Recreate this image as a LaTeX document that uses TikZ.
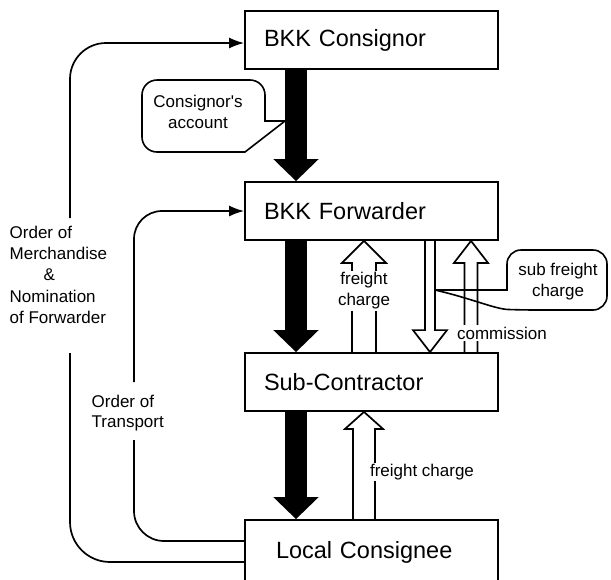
\documentclass[tikz,border=0pt]{standalone}
\usepackage{fontspec}
\setmainfont{Liberation Sans}
\usetikzlibrary{arrows.meta,calc}

\tikzset{
  box/.style={draw,line width=1.8pt,minimum height=58pt,text width=215pt,inner xsep=19pt,
    align=left,font=\fontsize{23.5}{28}\selectfont},
  lbl/.style={font=\fontsize{17}{21}\selectfont,inner sep=1.5pt},
  wire/.style={line width=1.7pt},
  solidarrow/.style={line width=22pt,-{Triangle[length=22pt,width=44pt]}},
  hollow/.style={line width=1.7pt,line join=miter},
  callout/.style={line width=1.6pt}
}

% open arrow: #1 tail, #2 tip, #3 half shaft, #4 half head, #5 signed head length
\newcommand\openarrow[5]{%
  \draw[hollow] let \p1=#1, \p2=#2 in
    (\x1-#3,\y1) -- (\x1-#3,\y2+#5) -- (\x1-#4,\y2+#5) -- (\x2,\y2)
    -- (\x1+#4,\y2+#5) -- (\x1+#3,\y2+#5) -- (\x1+#3,\y1);}

\begin{document}
\begin{tikzpicture}[x=1pt,y=-1pt]
\useasboundingbox (0,0) rectangle (611,579);
\clip (0,0) rectangle (611,579);

% Parameters
\def\headlen{22}
\coordinate (colA) at (296,0);
\coordinate (colF) at (364,0);
\coordinate (colC) at (430,0);
\coordinate (colS) at (471,0);

% Boxes
\node[box] (cons) at (371.5,40) {BKK Consignor};
\node[box] (fwd) at (371.5,211) {BKK Forwarder};
\node[box] (sub) at (371.5,382) {Sub-Contractor};
\node[box,minimum height=64pt,inner xsep=31pt,text width=191pt] (local) at (371.5,552) {Local Consignee};

% Goods
\draw[solidarrow] (cons.south -| colA) -- (fwd.north -| colA);
\draw[solidarrow] (fwd.south -| colA) -- (sub.north -| colA);
\draw[solidarrow] (sub.south -| colA) -- (local.north -| colA);

% Payments
\openarrow{(sub.north -| colF)}{(fwd.south -| colF)}{12}{22}{-\headlen}
\openarrow{(fwd.south -| colC)}{(sub.north -| colC)}{5}{17}{\headlen}
\openarrow{(sub.north -| colS)}{(fwd.south -| colS)}{6.5}{17}{-\headlen}
\openarrow{(local.north -| colF)}{(sub.south -| colF)}{11}{19}{-17}

\node[lbl,fill=white,align=center] (frt1) at (364,291) {freight\\charge};
\node[lbl,fill=white] (comm) at (502,333) {commission};
\node[lbl,fill=white] (frt2) at (422,472) {freight charge};

% Callouts
\coordinate (tipA) at (285,121);
\node[lbl,align=center] (acct) at (198,112) {Consignor\textquotesingle s\\account};
\draw[callout] (tipA) -- (265,121) [rounded corners=15pt] -- (265,80) -- (142,80)
  -- (142,152) [sharp corners] -- (245,152) -- cycle;

\coordinate (tipB) at (435,290);
\node[lbl,align=center] (subfr) at (558,282) {sub freight\\charge};
\draw[callout] (tipB) -- (507,290) [rounded corners=14pt] -- (507,250) -- (607,250)
  -- (607,310) -- (522,310) [sharp corners] .. controls (495,309) and (470,298) .. (tipB);

% Orders
\coordinate (m1) at (70,353);
\coordinate (m2) at (70,218);
\coordinate (t1) at (134,440);
\coordinate (t2) at (134,382);
\draw[wire,rounded corners=40pt] ([yshift=-10pt]local.west) -| (m1);
\draw[wire,rounded corners=36pt,-{Latex[length=15pt,width=11pt]}] (m2) |- ([yshift=-3pt]cons.west);
\draw[wire,rounded corners=30pt] ([yshift=11pt]local.west) -| (t1);
\draw[wire,rounded corners=28pt,-{Latex[length=15pt,width=11pt]}] (t2) |- (fwd.west);

\node[lbl,align=left,anchor=north west,font=\fontsize{17}{21.4}\selectfont] (merch) at (8,224)
  {Order of\\Merchandise\\\hspace*{34pt}\&\\Nomination\\of Forwarder};
\node[lbl,align=left,anchor=west,font=\fontsize{17}{20}\selectfont] (trans) at (90,413) {Order of\\Transport};
\end{tikzpicture}
\end{document}
